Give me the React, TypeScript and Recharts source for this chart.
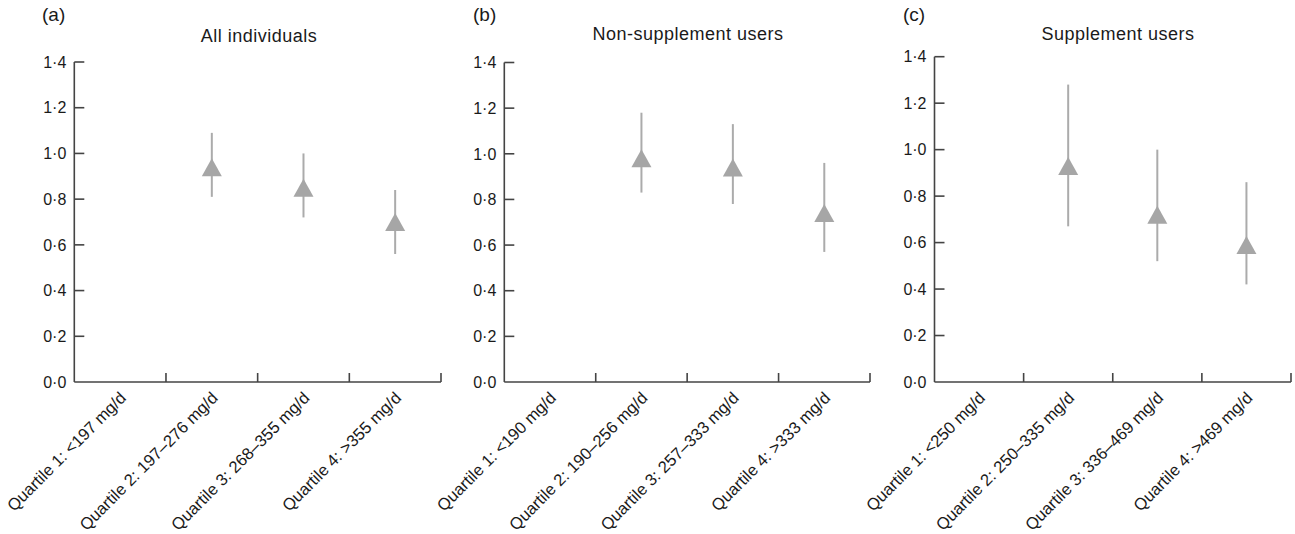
import React from 'react';
import { ScatterChart, Scatter, XAxis, YAxis, ErrorBar } from 'recharts';

// Category (quartile) labels per panel
const categoriesA = ['Quartile 1: <197 mg/d', 'Quartile 2: 197–276 mg/d', 'Quartile 3: 268–355 mg/d', 'Quartile 4: >355 mg/d'];
const categoriesB = ['Quartile 1: <190 mg/d', 'Quartile 2: 190–256 mg/d', 'Quartile 3: 257–333 mg/d', 'Quartile 4: >333 mg/d'];
const categoriesC = ['Quartile 1: <250 mg/d', 'Quartile 2: 250–335 mg/d', 'Quartile 3: 336–469 mg/d', 'Quartile 4: >469 mg/d'];

// Odds ratios (quartiles 2–4; quartile 1 is the reference and not plotted)
const orA = [0.94, 0.85, 0.7];
const lowA = [0.81, 0.72, 0.56];
const highA = [1.09, 1.0, 0.84];

const orB = [0.98, 0.94, 0.74];
const lowB = [0.83, 0.78, 0.57];
const highB = [1.18, 1.13, 0.96];

const orC = [0.93, 0.72, 0.59];
const lowC = [0.67, 0.52, 0.42];
const highC = [1.28, 1.0, 0.86];

const yTicks = [0, 0.2, 0.4, 0.6, 0.8, 1.0, 1.2, 1.4];
const xTicks = [0.5, 1, 1.5, 2, 2.5, 3, 3.5, 4];

const AXIS = '#444444';
const TEXT = '#1a1a1a';
const GREY = '#a6a6a6';
const FONT = '"Liberation Sans", Arial, Helvetica, sans-serif';

const fmt = (v: number) => v.toFixed(1).replace('.', '\u00B7');

const buildData = (or: number[], low: number[], high: number[]) =>
  or.map((v, i) => ({ x: i + 1.5, y: v, err: [v - low[i], high[i] - v] }));

function YTick(props: any) {
  const { x, y, payload } = props;
  const v = payload.value as number;
  return (
    <g>
      {v !== 0 && <line x1={x} y1={y} x2={x + 10} y2={y} stroke={AXIS} strokeWidth={1.6} />}
      <text x={x - 8} y={y} dy="0.36em" textAnchor="end" fontSize={16} fill={TEXT} fontFamily={FONT}>
        {fmt(v)}
      </text>
    </g>
  );
}

function makeXTick(labels: string[]) {
  return function XTick(props: any) {
    const { x, y, payload } = props;
    const v = payload.value as number;
    if (Number.isInteger(v)) {
      return <line x1={x} y1={y} x2={x} y2={y - 9} stroke={AXIS} strokeWidth={1.6} />;
    }
    const label = labels[Math.floor(v)];
    return (
      <text
        transform={`translate(${x + 7},${y + 17}) rotate(-45)`}
        textAnchor="end"
        fontSize={16.6}
        fill={TEXT}
        fontFamily={FONT}
      >
        {label}
      </text>
    );
  };
}

const Triangle = (props: any) => {
  const { cx, cy } = props;
  return <polygon points={`${cx},${cy - 9} ${cx - 10},${cy + 9} ${cx + 10},${cy + 9}`} fill={GREY} />;
};

type PanelProps = {
  left: number;
  width: number;
  top: number;
  yAxisWidth: number;
  labels: string[];
  data: any[];
};

function Panel({ left, width, top, yAxisWidth, labels, data }: PanelProps) {
  const XTick = makeXTick(labels);
  return (
    <div style={{ position: 'absolute', left, top: 0 }}>
      <ScatterChart width={width} height={534} margin={{ top, right: 4, bottom: 12, left: 0 }}>
        <XAxis
          type="number"
          dataKey="x"
          domain={[0, 4]}
          ticks={xTicks}
          interval={0}
          tick={<XTick />}
          tickLine={false}
          tickSize={0}
          tickMargin={0}
          height={140}
          axisLine={{ stroke: AXIS, strokeWidth: 1.6 }}
          allowDataOverflow
        />
        <YAxis
          type="number"
          dataKey="y"
          domain={[0, 1.4]}
          ticks={yTicks}
          interval={0}
          tick={<YTick />}
          tickLine={false}
          tickSize={0}
          tickMargin={0}
          width={yAxisWidth}
          axisLine={{ stroke: AXIS, strokeWidth: 1.6 }}
          allowDataOverflow
        />
        <Scatter data={data} shape={<Triangle />} isAnimationActive={false}>
          <ErrorBar dataKey="err" direction="y" width={0} stroke="#ababab" strokeWidth={2} isAnimationActive={false} />
        </Scatter>
      </ScatterChart>
    </div>
  );
}

const titleStyle: React.CSSProperties = {
  position: 'absolute',
  fontFamily: FONT,
  fontSize: 19,
  color: TEXT,
  whiteSpace: 'nowrap',
  lineHeight: 1,
};

export default function App() {
  return (
    <div style={{ position: 'absolute', left: 0, top: 0, width: 1295, height: 534, background: '#fff', overflow: 'hidden' }}>
      <Panel left={0} width={445} top={62} yAxisWidth={74.3} labels={categoriesA} data={buildData(orA, lowA, highA)} />
      <Panel left={430} width={444} top={62.5} yAxisWidth={74.3} labels={categoriesB} data={buildData(orB, lowB, highB)} />
      <Panel left={860} width={435} top={56.7} yAxisWidth={74.5} labels={categoriesC} data={buildData(orC, lowC, highC)} />

      <div style={{ ...titleStyle, left: 42, top: 5 }}>(a)</div>
      <div style={{ ...titleStyle, left: 259, top: 27, transform: 'translateX(-50%)', fontSize: 18, letterSpacing: 0.5 }}>All individuals</div>
      <div style={{ ...titleStyle, left: 473, top: 5 }}>(b)</div>
      <div style={{ ...titleStyle, left: 688, top: 25, transform: 'translateX(-50%)', fontSize: 18, letterSpacing: 0.5 }}>Non-supplement users</div>
      <div style={{ ...titleStyle, left: 903, top: 5 }}>(c)</div>
      <div style={{ ...titleStyle, left: 1118, top: 25, transform: 'translateX(-50%)', fontSize: 18, letterSpacing: 0.5 }}>Supplement users</div>
    </div>
  );
}
